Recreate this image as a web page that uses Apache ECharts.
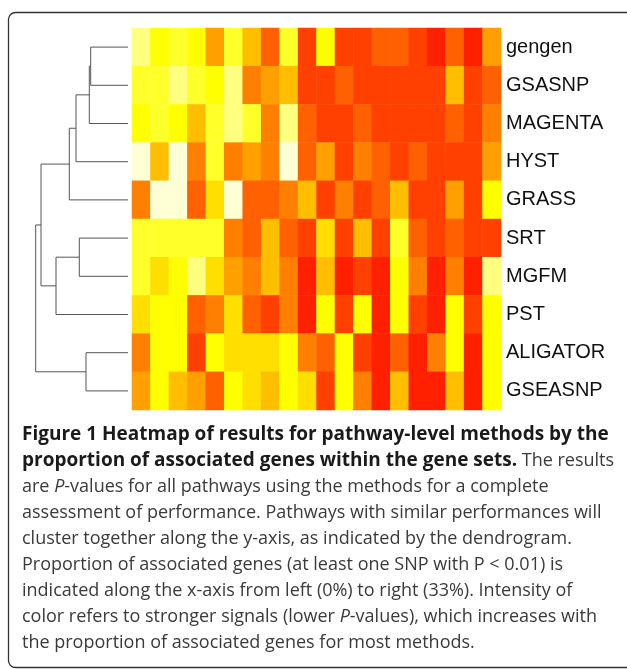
<!DOCTYPE html>
<html>
<head>
<meta charset="utf-8">
<title>Figure 1 heatmap</title>
<script src="https://cdn.jsdelivr.net/npm/echarts@6/dist/echarts.min.js"></script>
<style>
  html, body { margin: 0; padding: 0; background: #fff; }
  #chart { width: 627px; height: 669px; }
</style>
</head>
<body>
<div id="chart"></div>
<script>
// methods, top to bottom (dendrogram order)
const methods = ['gengen', 'GSASNP', 'MAGENTA', 'HYST', 'GRASS', 'SRT', 'MGFM', 'PST', 'ALIGATOR', 'GSEASNP']

// proportion bins, 0% -> 33%
const bins = ['b1', 'b2', 'b3', 'b4', 'b5', 'b6', 'b7', 'b8', 'b9', 'b10',
  'b11', 'b12', 'b13', 'b14', 'b15', 'b16', 'b17', 'b18', 'b19', 'b20']

// signal level per cell (0 = weak / pale, 10 = strong / red)
const gengen   = [1, 3, 2, 3, 6, 2, 5, 8, 2, 9, 3, 9, 9, 8, 8, 9, 10, 8, 10, 6]
const gsasnp   = [2, 2, 1, 2, 3, 1, 7, 6, 5, 9, 9, 8, 9, 9, 9, 9, 9, 5, 9, 8]
const magenta  = [3, 2, 3, 5, 2, 1, 2, 7, 1, 8, 9, 9, 8, 9, 9, 9, 9, 8, 9, 7]
const hyst     = [0, 5, 0, 7, 2, 7, 6, 7, 0, 8, 6, 9, 7, 8, 9, 8, 9, 9, 9, 6]
const grass    = [7, 0, 0, 8, 4, 0, 8, 8, 7, 5, 9, 7, 9, 8, 5, 9, 9, 6, 9, 3]
const srt      = [2, 2, 2, 2, 2, 7, 8, 5, 8, 9, 4, 9, 5, 9, 2, 8, 9, 8, 9, 9]
const mgfm     = [2, 4, 3, 1, 4, 6, 7, 5, 7, 10, 5, 10, 9, 10, 3, 7, 10, 7, 10, 1]
const pst      = [4, 3, 3, 8, 7, 4, 8, 9, 7, 10, 3, 9, 3, 10, 3, 9, 10, 3, 9, 3]
const aligator = [7, 3, 3, 9, 3, 4, 4, 4, 3, 7, 8, 3, 9, 10, 8, 10, 7, 3, 10, 3]
const gseasnp  = [6, 3, 5, 6, 8, 3, 4, 5, 3, 4, 9, 3, 7, 10, 5, 10, 10, 5, 10, 3]

const rows = [gengen, gsasnp, magenta, hyst, grass, srt, mgfm, pst, aligator, gseasnp]

// heat palette, pale -> red
const heatColors = ['#FFFFD5', '#FFFF80', '#FFFF2A', '#FFFF00', '#FFDF00', '#FFBF00',
  '#FF9F00', '#FF8000', '#FF6000', '#FF4000', '#FF2000', '#FF0000']

// dendrogram merges: [left, right, height]; 'm<i>' refers to merge i
const merges = [
  ['gengen', 'GSASNP', 37.3],
  ['m0', 'MAGENTA', 38.7],
  ['m1', 'HYST', 52],
  ['m2', 'GRASS', 58.7],
  ['SRT', 'MGFM', 48.7],
  ['m4', 'PST', 72],
  ['m3', 'm5', 87],
  ['ALIGATOR', 'GSEASNP', 42],
  ['m6', 'm7', 92.3]
]

// build heatmap cells
const cells = []
rows.forEach((row, r) => {
  row.forEach((v, c) => cells.push([c, r, v]))
})

// build dendrogram segments
const nodes = {}
methods.forEach((m, i) => { nodes[m] = { x: 0, y: i } })
const dendroData = []
merges.forEach(([a, b, h], i) => {
  const na = nodes[a]
  const nb = nodes[b]
  dendroData.push([na.x, na.y, nb.x, nb.y, h])
  nodes['m' + i] = { x: h, y: (na.y + nb.y) / 2 }
})

const caption =
  '{b|Figure 1 Heatmap of results for pathway-level methods by the}\n' +
  '{b|proportion of associated genes within the gene sets.} The results\n' +
  'are {i|P}-values for all pathways using the methods for a complete\n' +
  'assessment of performance. Pathways with similar performances will\n' +
  'cluster together along the y-axis, as indicated by the dendrogram.\n' +
  'Proportion of associated genes (at least one SNP with P < 0.01) is\n' +
  'indicated along the x-axis from left (0%) to right (33%). Intensity of\n' +
  'color refers to stronger signals (lower {i|P}-values), which increases with\n' +
  'the proportion of associated genes for most methods.'

const capFont = "'Open Sans', 'Noto Sans', sans-serif"
const boldSize = 19
const textSize = 18
const capLine = 26

const chart = echarts.init(document.getElementById('chart'))

const option = {
  animation: false,
  backgroundColor: '#fff',
  grid: [
    { left: 132, right: 126, top: 28, bottom: 259 },
    { left: 28, width: 100, top: 28, bottom: 259 }
  ],
  xAxis: [
    { type: 'category', gridIndex: 0, data: bins, show: false },
    { type: 'value', gridIndex: 1, min: 0, max: 100, inverse: true, show: false }
  ],
  yAxis: [
    {
      type: 'category', gridIndex: 0, data: methods, inverse: true, position: 'right',
      axisLine: { show: false }, axisTick: { show: false }, splitLine: { show: false },
      axisLabel: { color: '#111', fontSize: 20, fontFamily: "'Liberation Sans', Arial, sans-serif", margin: 5 }
    },
    { type: 'value', gridIndex: 1, min: -0.5, max: 9.5, inverse: true, show: false }
  ],
  visualMap: {
    show: false,
    type: 'continuous',
    min: 0,
    max: 11,
    seriesIndex: 0,
    inRange: { color: heatColors }
  },
  series: [
    {
      type: 'heatmap',
      xAxisIndex: 0,
      yAxisIndex: 0,
      data: cells,
      itemStyle: { borderWidth: 0 },
      emphasis: { disabled: true }
    },
    {
      type: 'custom',
      xAxisIndex: 1,
      yAxisIndex: 1,
      data: dendroData,
      silent: true,
      renderItem: (params, api) => {
        const x1 = api.value(0), y1 = api.value(1)
        const x2 = api.value(2), y2 = api.value(3), h = api.value(4)
        return {
          type: 'polyline',
          shape: {
            points: [api.coord([x1, y1]), api.coord([h, y1]), api.coord([h, y2]), api.coord([x2, y2])]
          },
          style: { stroke: '#555', lineWidth: 1, fill: null }
        }
      }
    }
  ],
  graphic: [
    {
      type: 'rect',
      shape: { x: 8.5, y: 12.5, width: 640, height: 655, r: 7 },
      style: { fill: null, stroke: '#333', lineWidth: 1.3 },
      silent: true
    },
    {
      type: 'text',
      left: 22,
      top: 422,
      silent: true,
      style: {
        text: caption,
        fill: '#3a3a3a',
        font: textSize + 'px ' + capFont,
        lineHeight: capLine,
        rich: {
          b: { fontWeight: 'bold', fill: '#1a1a1a', fontSize: boldSize, fontFamily: capFont, lineHeight: capLine },
          i: { fontStyle: 'italic', fill: '#3a3a3a', fontSize: textSize, fontFamily: capFont, lineHeight: capLine }
        }
      }
    }
  ]
}

chart.setOption(option)
window.addEventListener('resize', () => chart.resize())
</script>
</body>
</html>
